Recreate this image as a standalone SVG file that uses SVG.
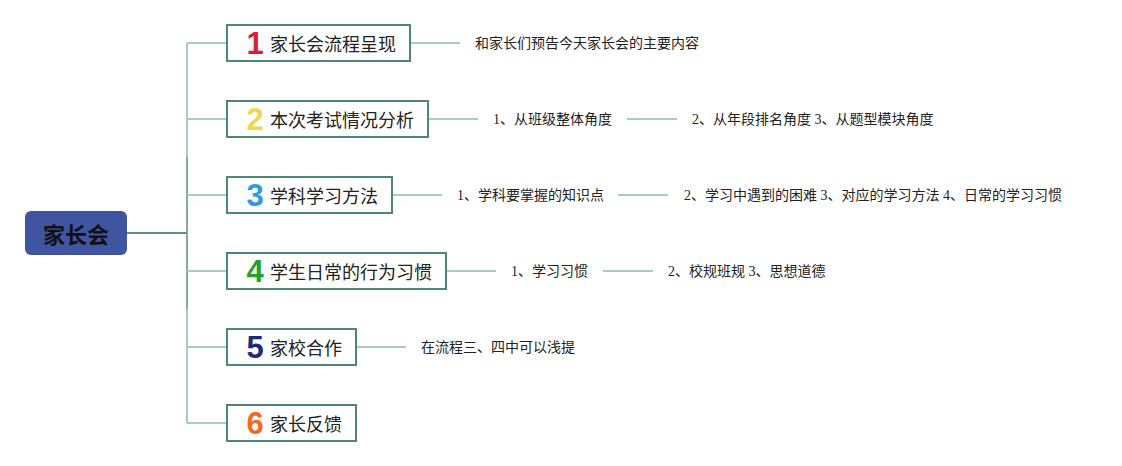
<svg xmlns="http://www.w3.org/2000/svg" width="1122" height="466" viewBox="0 0 1122 466">
<style>
.box{fill:#fff;stroke:#4f8777;stroke-width:2}
.ln{stroke:#a6cdc1;stroke-width:2;fill:none}
.lnd{stroke:#5f9484;stroke-width:2;fill:none}
.lnm{stroke:#7fae9f;stroke-width:2;fill:none}
.num{font-family:"Liberation Sans",Arial,sans-serif;font-weight:bold;font-size:31px;text-anchor:middle}
.lbl{font-family:"Noto Sans CJK SC","Noto Sans",sans-serif;font-size:18px;fill:#222;dominant-baseline:central}
.sub{font-family:"Liberation Serif","Noto Sans CJK SC",serif;font-size:14px;fill:#222;dominant-baseline:central}
</style>
<rect width="1122" height="466" fill="#fff"/>
<g id="connectors">
<path class="ln" d="M187 43V423"/>
<path class="lnm" d="M187 157V309"/>
<path class="lnd" d="M127 233H187"/>
<path class="ln" d="M187 43H227M187 119H227M187 195H227M187 271H227M187 347H227M187 423H227"/>
<path class="ln" d="M410 43H460"/>
<path class="ln" d="M428 119H478M627 119H677"/>
<path class="ln" d="M392 195H442M618 195H668"/>
<path class="ln" d="M446 271H496M603 271H653"/>
<path class="ln" d="M356 347H406"/>
</g>
<g id="root">
<rect x="25" y="211" width="102" height="44" rx="6" fill="#3f55a2"/>
<text x="76" y="233" font-family="'Noto Sans CJK SC',sans-serif" font-weight="bold" font-size="22" fill="#111" text-anchor="middle" dominant-baseline="central">家长会</text>
</g>
<g id="n1">
<rect class="box" x="227" y="25" width="183" height="36"/>
<text class="num" x="255" y="54" fill="#d91f36">1</text>
<text class="lbl" x="270" y="43">家长会流程呈现</text>
</g>
<g id="n2">
<rect class="box" x="227" y="101" width="201" height="36"/>
<text class="num" x="255" y="130" fill="#f2d54a">2</text>
<text class="lbl" x="270" y="119">本次考试情况分析</text>
</g>
<g id="n3">
<rect class="box" x="227" y="177" width="165" height="36"/>
<text class="num" x="255" y="206" fill="#2e9ae0">3</text>
<text class="lbl" x="270" y="195">学科学习方法</text>
</g>
<g id="n4">
<rect class="box" x="227" y="253" width="219" height="36"/>
<text class="num" x="255" y="282" fill="#24a02c">4</text>
<text class="lbl" x="270" y="271">学生日常的行为习惯</text>
</g>
<g id="n5">
<rect class="box" x="227" y="329" width="129" height="36"/>
<text class="num" x="255" y="358" fill="#1e2a78">5</text>
<text class="lbl" x="270" y="347">家校合作</text>
</g>
<g id="n6">
<rect class="box" x="227" y="405" width="129" height="36"/>
<text class="num" x="255" y="434" fill="#f26a1c">6</text>
<text class="lbl" x="270" y="423">家长反馈</text>
</g>
<g id="n1a"><text class="sub" x="475" y="43">和家长们预告今天家长会的主要内容</text></g>
<g id="n2a"><text class="sub" x="493" y="119">1、从班级整体角度</text></g>
<g id="n2b"><text class="sub" x="692" y="119">2、从年段排名角度 3、从题型模块角度</text></g>
<g id="n3a"><text class="sub" x="457" y="195">1、学科要掌握的知识点</text></g>
<g id="n3b"><text class="sub" x="684" y="195">2、学习中遇到的困难 3、对应的学习方法 4、日常的学习习惯</text></g>
<g id="n4a"><text class="sub" x="511" y="271">1、学习习惯</text></g>
<g id="n4b"><text class="sub" x="668" y="271">2、校规班规 3、思想道德</text></g>
<g id="n5a"><text class="sub" x="421" y="347">在流程三、四中可以浅提</text></g>
</svg>
